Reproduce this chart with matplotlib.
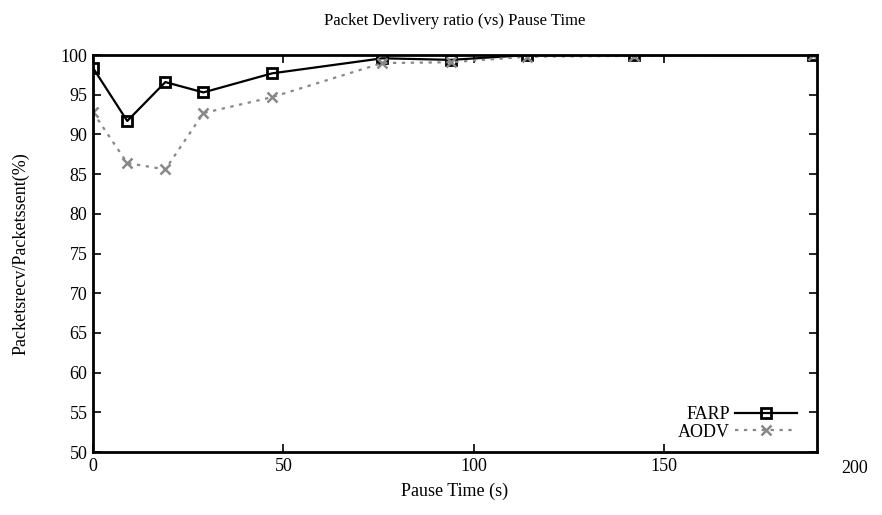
import matplotlib
matplotlib.use("Agg")
import matplotlib.pyplot as plt
import matplotlib.transforms as mtransforms

pause_time = [0, 9, 19, 29, 47, 76, 94, 114, 142, 189]
farp = [98.4, 91.7, 96.6, 95.3, 97.7, 99.6, 99.4, 100.0, 100.0, 100.0]
aodv = [92.8, 86.4, 85.6, 92.7, 94.7, 99.0, 99.1, 99.8, 99.9, 100.0]
xticks = [0, 50, 100, 150]
extra_xtick = 200
yticks = list(range(50, 101, 5))

plt.rcParams['font.family'] = ['Liberation Serif', 'DejaVu Serif']

fig = plt.figure(figsize=(8.82, 5.15), dpi=100)
ax = fig.add_axes([0.1054, 0.1223, 0.8206, 0.7707])

ax.plot(pause_time, farp, color='black', lw=1.6, marker='s', markersize=7.5,
        markerfacecolor='none', markeredgewidth=2, label='FARP')
ax.plot(pause_time, aodv, color='#888888', lw=1.6, ls=(0, (1.5, 2.5)), marker='x',
        markersize=7.5, markeredgewidth=1.8, label='AODV')

ax.set_xlim(0, 190)
ax.set_ylim(50, 100)
ax.set_xticks(xticks)
ax.set_yticks(yticks)
ax.tick_params(direction='in', length=6, width=1.2, labelsize=13, top=True, right=True, pad=4)
for s in ax.spines.values():
    s.set_linewidth(2)

trans = mtransforms.blended_transform_factory(ax.transData, ax.transAxes)
ax.text(extra_xtick, -0.02, str(extra_xtick), transform=trans, ha='center', va='top',
        fontsize=13, clip_on=False)

ax.set_title('Packet Devlivery ratio (vs) Pause Time', fontsize=12, pad=22)
ax.set_xlabel('Pause Time (s)', fontsize=13, labelpad=6)
ax.set_ylabel('Packetsrecv/Packetssent(%)', fontsize=13, labelpad=22)

leg = ax.legend(loc='lower right', bbox_to_anchor=(0.995, -0.012), frameon=False,
                markerfirst=False, handlelength=3.4, fontsize=13, labelspacing=0.02,
                handletextpad=0.3)

fig.savefig('out.png', dpi=100)
